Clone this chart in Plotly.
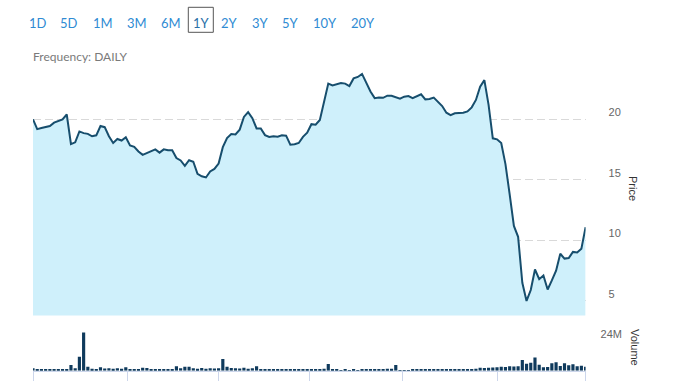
import pandas as pd
import plotly.graph_objects as go

W, H = 678, 381

# ---- data (one value every 2 trading days) ----
start_date = "2019-04-01"
end_date = "2020-04-01"

price = [
    20.0, 19.19, 19.28, 19.35, 19.45, 19.73, 19.88, 20.0, 20.4, 17.95,
    18.1, 19.0, 18.86, 18.8, 18.6, 18.68, 19.45, 19.35, 18.6, 18.05,
    18.38, 18.25, 18.52, 17.85, 17.73, 17.35, 17.07, 17.22, 17.4, 17.52,
    17.25, 17.52, 17.45, 17.45, 16.8, 16.6, 16.16, 16.62, 16.5, 15.5,
    15.3, 15.2, 15.7, 15.9, 16.35, 17.7, 18.45, 18.78, 18.75, 19.15,
    20.2, 20.6, 20.1, 19.25, 19.25, 18.7, 18.55, 18.6, 18.56, 18.68,
    18.65, 17.9, 17.95, 18.05, 18.55, 18.9, 19.6, 19.55, 19.95, 21.5,
    22.95, 22.8, 22.87, 23.0, 22.95, 22.75, 23.38, 23.5, 23.75, 22.95,
    22.3, 21.75, 21.81, 21.78, 21.95, 21.95, 21.85, 21.7, 21.87, 21.92,
    21.75, 21.9, 22.07, 21.65, 21.68, 21.8, 21.46, 21.1, 20.55, 20.35,
    20.5, 20.5, 20.55, 20.65, 20.99, 21.6, 22.7, 23.24, 21.2, 18.43,
    18.35, 18.05, 16.3, 13.8, 11.2, 10.3, 6.5, 5.0, 5.9, 7.6,
    6.8, 7.1, 5.95, 6.7, 7.5, 8.9, 8.5, 8.55, 9.05, 9.0,
    9.32, 11.1,
]

volume_m = [
    1.2, 0.5, 0.6, 0.5, 0.8, 0.8, 0.7, 0.8, 0.9, 2.9,
    1.2, 7.0, 19.3, 2.0, 1.0, 0.7, 1.7, 1.1, 1.2, 1.0,
    1.2, 1.0, 1.7, 0.6, 0.5, 0.6, 1.5, 1.4, 0.8, 0.8,
    0.9, 0.7, 0.8, 0.8, 2.3, 1.2, 2.0, 2.0, 1.2, 1.0,
    1.3, 1.0, 1.2, 1.1, 1.2, 5.9, 2.0, 1.4, 1.2, 1.1,
    1.5, 1.0, 1.2, 2.3, 0.5, 0.5, 0.4, 0.5, 0.5, 0.6,
    0.5, 0.7, 0.5, 0.4, 0.6, 0.8, 0.5, 0.6, 0.8, 1.0,
    3.4, 0.8, 0.7, 0.3, 0.4, 0.3, 0.4, 0.3, 0.5, 0.7,
    0.6, 0.7, 0.6, 0.7, 1.0, 1.0, 2.9, 0.2, 0.2, 0.3,
    0.4, 0.4, 0.5, 0.4, 0.6, 0.4, 0.5, 0.5, 0.4, 0.6,
    0.4, 0.5, 0.6, 0.5, 0.7, 1.0, 1.5, 1.4, 1.5, 1.6,
    1.8, 2.0, 1.9, 2.2, 2.1, 2.3, 5.4, 3.5, 4.0, 6.7,
    3.0, 1.8, 1.9, 3.7, 4.2, 2.4, 3.7, 2.7, 3.2, 2.2,
    2.5, 2.0,
]

range_buttons = ["1D", "5D", "1M", "3M", "6M", "1Y", "2Y", "3Y", "5Y", "10Y", "20Y"]
active_button = "1Y"
price_ticks = [5, 10, 15, 20]
volume_ticks = [24e6]
volume_tick_text = ["24M"]

all_bdays = pd.bdate_range(start_date, end_date)
dates = all_bdays[::2][: len(price)]
volume = [v * 1e6 for v in volume_m]

# tick marks at first trading day of every second month
s = pd.Series(all_bdays)
month_firsts = s.groupby(s.dt.to_period("M")).first().tolist()
tick_dates = month_firsts[::2]

# ---- layout helpers (pixel -> paper with zero margins) ----
def px(x):
    return x / W

def py(y):
    return 1 - y / H

x_dom = [px(33), px(585.6)]
price_dom = [py(315.5), py(60)]
vol_dom = [py(370.7), py(323)]

LINE = "#174e6d"
FILL = "#cff0fb"
BAR = "#0f3a5c"
GRID = "#d9d9d9"
AXC = "#ccd6eb"
BLUE = "#2f8bd3"

fig = go.Figure()
fig.add_trace(go.Scatter(
    x=dates, y=price, mode="lines", fill="tozeroy",
    line=dict(color=LINE, width=2), fillcolor=FILL,
    xaxis="x", yaxis="y", hoverinfo="x+y",
))
fig.add_trace(go.Bar(
    x=dates, y=volume, marker=dict(color=BAR, line=dict(width=0)),
    xaxis="x2", yaxis="y2",
))

rb = [dict(bounds=["sat", "mon"])]

fig.update_layout(
    width=W, height=H,
    margin=dict(l=0, r=0, t=0, b=0, pad=0, autoexpand=False),
    paper_bgcolor="white", plot_bgcolor="rgba(0,0,0,0)",
    showlegend=False, bargap=0.25,
    font=dict(family="Liberation Sans, Arial, sans-serif", size=11, color="#666666"),
    xaxis=dict(
        domain=x_dom, range=[dates[0], dates[-1]], anchor="y", automargin=False,
        showgrid=False, showticklabels=False, zeroline=False, showline=False,
        rangebreaks=rb,
    ),
    xaxis2=dict(
        domain=x_dom, range=[dates[0], dates[-1]], anchor="y2", matches="x",
        automargin=False,
        showgrid=False, showticklabels=False, zeroline=False,
        showline=True, linecolor=AXC, linewidth=1,
        ticks="outside", ticklen=9, tickcolor=AXC, tickwidth=1,
        tickmode="array", tickvals=tick_dates,
        rangebreaks=rb,
    ),
    yaxis=dict(
        domain=price_dom, range=[3.8, 24.9], side="right", anchor="x",
        automargin=False,
        tickmode="array", tickvals=price_ticks,
        showgrid=True, gridcolor=GRID, gridwidth=1, griddash="8px,4px",
        zeroline=False, showline=False, ticks="",
        ticklabelstandoff=22, ticklabelshift=-7,
        tickfont=dict(size=11, color="#666666"),
    ),
    yaxis2=dict(
        domain=vol_dom, range=[0, 24.05e6], side="right", anchor="x2",
        automargin=False,
        tickmode="array", tickvals=volume_ticks, ticktext=volume_tick_text,
        showgrid=True, gridcolor=GRID, gridwidth=1, griddash="8px,4px",
        zeroline=False, showline=False, ticks="",
        ticklabelstandoff=14, ticklabelshift=11,
        tickfont=dict(size=11, color="#666666"),
    ),
)

annotations = []
btn_x = [37.7, 69.3, 102.7, 136.7, 170.7, 201, 229.3, 260, 290, 325, 362.7]
for label, cx in zip(range_buttons, btn_x):
    annotations.append(dict(
        x=px(cx), y=py(22.5), xref="paper", yref="paper",
        text=label, showarrow=False, xanchor="center", yanchor="middle",
        font=dict(family="Lato, sans-serif", size=13,
                  color="#2a6fa8" if label == active_button else BLUE),
    ))
annotations.append(dict(
    x=px(31), y=py(57), xref="paper", yref="paper", text="Frequency: DAILY",
    showarrow=False, xanchor="left", yanchor="middle",
    font=dict(family="Lato, sans-serif", size=12, color="#7a7a7a"),
))
annotations.append(dict(
    x=px(633), y=py(188), xref="paper", yref="paper", text="Price",
    showarrow=False, textangle=90, xanchor="center", yanchor="middle",
    font=dict(family="Liberation Sans, Arial, sans-serif", size=11, color="#333333"),
))
annotations.append(dict(
    x=px(635), y=py(347), xref="paper", yref="paper", text="Volume",
    showarrow=False, textangle=90, xanchor="center", yanchor="middle",
    font=dict(family="Liberation Sans, Arial, sans-serif", size=11, color="#333333"),
))
fig.update_layout(annotations=annotations)

fig.add_shape(
    type="rect", xref="paper", yref="paper",
    x0=px(188.3), x1=px(213.3), y0=py(32.3), y1=py(7.3),
    line=dict(color="#555555", width=1), fillcolor="rgba(0,0,0,0)",
)

fig.write_html(
    "out.html",
    config={"displayModeBar": False, "responsive": False},
    post_script="document.body.style.margin='0';document.body.style.overflow='hidden';",
)
